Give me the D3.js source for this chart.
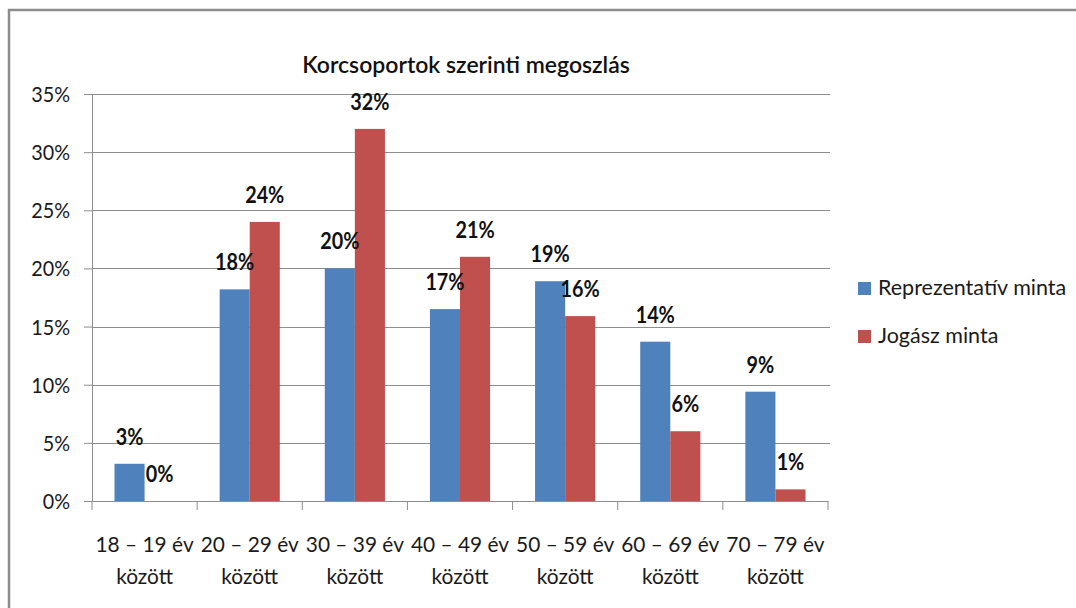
<!DOCTYPE html>
<html>
<head>
<meta charset="utf-8">
<script src="https://cdn.jsdelivr.net/npm/d3@7"></script>
<style>
  body { margin: 0; background: #fff; }
  svg { font-family: Lato, "Open Sans", sans-serif; }
</style>
</head>
<body>
<div id="chart"></div>
<script>
// Data
const categories = ["18 – 19 év között", "20 – 29 év között", "30 – 39 év között", "40 – 49 év között",
                    "50 – 59 év között", "60 – 69 év között", "70 – 79 év között"];
const seriesNames = ["Reprezentatív minta", "Jogász minta"];
const reprezentativ = [3.2, 18.2, 20.0, 16.5, 18.9, 13.7, 9.4];
const jogasz = [0, 24.0, 32.0, 21.0, 15.9, 6.0, 1.0];
const labelsRep = ["3%", "18%", "20%", "17%", "19%", "14%", "9%"];
const labelsJog = ["0%", "24%", "32%", "21%", "16%", "6%", "1%"];
const yTicks = [0, 5, 10, 15, 20, 25, 30, 35];
const colors = ["#4F81BD", "#C0504D"];

const width = 1076, height = 608;
const margin = { top: 94, right: 248, bottom: 107, left: 92 };

const svg = d3.select("#chart").append("svg")
    .attr("width", width).attr("height", height);

// text squeezed a little sideways, like the narrow office font of the original
function label(parent, x, y, str, opt = {}) {
    const g = parent.append("g")
        .attr("transform", `translate(${x},${y}) scale(${opt.sx || 0.9},1)`);
    return g.append("text")
        .attr("text-anchor", opt.anchor || "middle")
        .attr("font-size", opt.size || 22)
        .attr("font-weight", opt.weight || "normal")
        .attr("fill", opt.fill || "#1a1a1a")
        .text(str);
}

// outer chart frame (only top and left edges visible)
svg.append("path")
    .attr("d", `M9,${height} V10 H${width}`)
    .attr("fill", "none").attr("stroke", "#8c8c8c").attr("stroke-width", 2.5);

const x0 = d3.scaleBand().domain(categories)
    .range([margin.left, width - margin.right]);
const x1 = d3.scaleBand().domain(seriesNames)
    .range([x0.bandwidth() * 0.214, x0.bandwidth() * 0.786]);
const y = d3.scaleLinear().domain([0, 35]).range([height - margin.bottom, margin.top]);

// gridlines
svg.append("g").selectAll("line")
    .data(yTicks.filter(d => d > 0))
    .join("line")
    .attr("x1", margin.left).attr("x2", width - margin.right + 2)
    .attr("y1", d => Math.round(y(d)) + 0.5).attr("y2", d => Math.round(y(d)) + 0.5)
    .attr("stroke", "#8e8e8e").attr("stroke-width", 1.2);

// y axis
const yAxis = svg.append("g")
    .attr("transform", `translate(${margin.left},0)`)
    .call(d3.axisLeft(y).tickValues(yTicks).tickFormat("").tickSize(8));
yAxis.select(".domain").attr("stroke", "#8e8e8e");
yAxis.selectAll(".tick line").attr("stroke", "#8e8e8e");
const yLab = svg.append("g");
yTicks.forEach(t => label(yLab, 70, y(t) + 8, t + "%", { anchor: "end" }));

// bars
const rows = categories.map((c, i) => ({ cat: c, vals: [reprezentativ[i], jogasz[i]], labels: [labelsRep[i], labelsJog[i]] }));
const groups = svg.append("g").selectAll("g")
    .data(rows).join("g")
    .attr("transform", d => `translate(${x0(d.cat)},0)`);

groups.selectAll("rect")
    .data(d => d.vals.map((v, k) => ({ k, v })))
    .join("rect")
    .attr("x", d => x1(seriesNames[d.k]))
    .attr("width", x1.bandwidth())
    .attr("y", d => y(d.v))
    .attr("height", d => y(0) - y(d.v))
    .attr("fill", d => colors[d.k]);

// data labels
groups.each(function (d) {
    const g = d3.select(this);
    d.vals.forEach((v, k) => {
        label(g, x1(seriesNames[k]) + x1.bandwidth() / 2, y(v) - 19, d.labels[k],
            { weight: "bold", fill: "#111" });
    });
});

// x axis
const xAxis = svg.append("g")
    .attr("transform", `translate(0,${y(0)})`)
    .call(d3.axisBottom(x0).tickSize(0).tickFormat(""));
xAxis.select(".domain").attr("stroke", "#8e8e8e");
const bounds = [margin.left].concat(categories.map(c => x0(c) + x0.bandwidth()));
xAxis.selectAll(".sep").data(bounds).join("line")
    .attr("class", "sep")
    .attr("x1", d => d).attr("x2", d => d)
    .attr("y1", 0).attr("y2", 9)
    .attr("stroke", "#8e8e8e");

const xLab = svg.append("g");
categories.forEach(c => {
    const cx = x0(c) + x0.bandwidth() / 2;
    label(xLab, cx, 552, c.replace(" között", ""), { sx: 0.95 });
    label(xLab, cx, 583.5, "között", { sx: 0.95 });
});

// title
svg.append("text")
    .attr("x", 466).attr("y", 73)
    .attr("text-anchor", "middle")
    .attr("font-size", 23).attr("font-weight", 600).attr("fill", "#111")
    .text("Korcsoportok szerinti megoszlás");

// legend
const legend = svg.append("g").selectAll("g")
    .data(seriesNames).join("g")
    .attr("transform", (d, i) => `translate(858,${282 + i * 48})`);
legend.append("rect").attr("width", 13).attr("height", 13).attr("fill", (d, i) => colors[i]);
legend.append("text").attr("x", 20).attr("y", 13)
    .attr("font-size", 21.5).attr("fill", "#1a1a1a")
    .text(d => d);
</script>
</body>
</html>
